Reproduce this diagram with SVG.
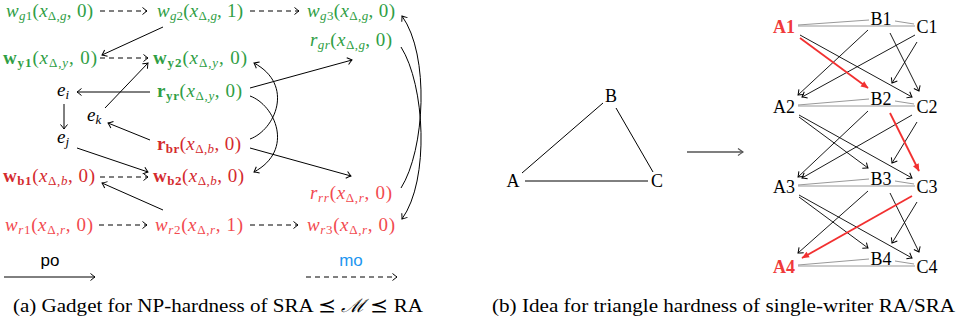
<svg xmlns="http://www.w3.org/2000/svg" width="969" height="325" viewBox="0 0 969 325">
<style>
text{font-family:"Liberation Serif","DejaVu Serif",serif;font-size:19px;fill:#000}
.i{font-style:italic}
.bd{font-weight:bold}
.s{font-size:13px}
.g{fill:#2f9e44}
.b{fill:#d42a2e}
.r{fill:#f24a4f}
.A{fill:#f03a3a;font-weight:bold}
.lb{font-size:18px}
.cap{font-size:18.5px}
.ln{stroke:#000;stroke-width:1;fill:none;marker-end:url(#ah)}
.pl{stroke:#000;stroke-width:1;fill:none}
.da{stroke-dasharray:5 4}
.gr{stroke:#999;stroke-width:1;fill:none}
.ga{stroke:#000;stroke-width:0.9;fill:none;marker-end:url(#ah)}
.rd{stroke:#f23030;stroke-width:1.8;fill:none;marker-end:url(#ahr)}
.sans{font-family:"Liberation Sans",Arial,sans-serif;font-size:17px}
.mid{text-anchor:middle}
</style>
<defs>
<marker id="ah" markerUnits="userSpaceOnUse" viewBox="-6 -5 7 10" refX="0" refY="0" markerWidth="7" markerHeight="10" orient="auto"><path d="M-4.5,-3.5 Q-1.5,-1 0,0 Q-1.5,1 -4.5,3.5" fill="none" stroke="#000" stroke-width="1"/></marker>
<marker id="ahr" markerUnits="userSpaceOnUse" viewBox="-8 -5 9 10" refX="0" refY="0" markerWidth="9" markerHeight="10" orient="auto"><path d="M-7,-3.2 L0.5,0 L-7,3.2 Z" fill="#f23030"/></marker>
<marker id="ahg" markerUnits="userSpaceOnUse" viewBox="-6 -5 7 10" refX="0" refY="0" markerWidth="7" markerHeight="10" orient="auto"><path d="M-5,-3.5 Q-1.5,-1 0,0 Q-1.5,1 -5,3.5" fill="none" stroke="#555" stroke-width="1.2"/></marker>
</defs>

<g id="connectors">
  <path class="ln da" d="M100,11 L147,11"/>
  <path class="ln da" d="M250,11 L299,11"/>
  <path class="ln" d="M163,27 L102,55"/>
  <path class="ln da" d="M100,58 L148,58"/>
  <path class="ln" d="M105,108 L148,63"/>
  <path class="ln" d="M150,92 L77,92"/>
  <path class="ln" d="M250,88 L352,60"/>
  <path class="ln" d="M64,104 L64,129"/>
  <path class="ln" d="M150,140 L108,123"/>
  <path class="ln" d="M77,148 L148,172"/>
  <path class="ln" d="M250,148 L351,176"/>
  <path class="ln da" d="M100,177 L148,177"/>
  <path class="ln" d="M163,210 L102,183"/>
  <path class="ln da" d="M99,225 L147,225"/>
  <path class="ln da" d="M250,225 L298,225"/>
  <path class="ln" d="M250,96 C275,105 295,150 254,172"/>
  <path class="ln" d="M250,139 C275,130 295,85 254,63"/>
  <path class="ln" d="M401,47 C425,85 430,180 402,219"/>
  <path class="ln" d="M401,188 C425,150 430,55 402,16"/>
  <path class="ln" d="M4,277 L95,277"/>
  <path class="ln da" d="M306,277 L397,277"/>

  <path class="pl" d="M522,173 L603,103"/>
  <path class="pl" d="M616,108 L653,172"/>
  <path class="pl" d="M525,181 L648,181"/>
  <path d="M687,152 L743,152" stroke="#555" stroke-width="1.3" fill="none" marker-end="url(#ahg)"/>

  <path class="gr" d="M798,25 L869,20 M798,26 L915,26 M895,21 L914,24"/>
  <path class="gr" d="M798,105 L869,99 M798,106 L915,106 M895,101 L914,104"/>
  <path class="gr" d="M798,185 L869,179 M798,186 L915,186 M895,181 L914,184"/>
  <path class="gr" d="M798,265 L869,259 M798,266 L915,266 M895,261 L914,264"/>

  <path class="ga" d="M868,30 L798,95"/>
  <path class="ga" d="M915,35 L802,97"/>
  <path class="ga" d="M800,35 L912,97"/>
  <path class="ga" d="M890,33 L919,91"/>
  <path class="ga" d="M917,42 L892,83"/>
  <path class="rd" d="M800,38 L868,88"/>

  <path class="ga" d="M799,117 L868,168"/>
  <path class="ga" d="M799,115 L912,178"/>
  <path class="ga" d="M868,111 L798,177"/>
  <path class="ga" d="M912,115 L802,178"/>
  <path class="ga" d="M917,122 L892,163"/>
  <path class="rd" d="M890,113 L919,171"/>

  <path class="ga" d="M799,197 L868,248"/>
  <path class="ga" d="M799,195 L912,258"/>
  <path class="ga" d="M868,191 L798,253"/>
  <path class="ga" d="M917,202 L892,243"/>
  <path class="ga" d="M890,193 L919,252"/>
  <path class="rd" d="M912,196 L802,258"/>
</g>

<g id="wg1"><text x="6" y="17" class="g" textLength="87" lengthAdjust="spacing"><tspan class="i">w</tspan><tspan class="s i" dy="3">g</tspan><tspan class="s">1</tspan><tspan dy="-3">(</tspan><tspan class="i">x</tspan><tspan class="s" dy="3">Δ,</tspan><tspan class="s i">g</tspan><tspan dy="-3">, 0)</tspan></text></g>
<g id="wg2"><text x="157" y="17" class="g" textLength="86" lengthAdjust="spacing"><tspan class="i">w</tspan><tspan class="s i" dy="3">g</tspan><tspan class="s">2</tspan><tspan dy="-3">(</tspan><tspan class="i">x</tspan><tspan class="s" dy="3">Δ,</tspan><tspan class="s i">g</tspan><tspan dy="-3">, 1)</tspan></text></g>
<g id="wg3"><text x="307" y="17" class="g" textLength="88" lengthAdjust="spacing"><tspan class="i">w</tspan><tspan class="s i" dy="3">g</tspan><tspan class="s">3</tspan><tspan dy="-3">(</tspan><tspan class="i">x</tspan><tspan class="s" dy="3">Δ,</tspan><tspan class="s i">g</tspan><tspan dy="-3">, 0)</tspan></text></g>
<g id="rgr"><text x="310" y="46" class="g" textLength="82" lengthAdjust="spacing"><tspan class="i">r</tspan><tspan class="s i" dy="3">gr</tspan><tspan dy="-3">(</tspan><tspan class="i">x</tspan><tspan class="s" dy="3">Δ,</tspan><tspan class="s i">g</tspan><tspan dy="-3">, 0)</tspan></text></g>
<g id="wy1"><text x="3" y="64" class="g" textLength="94" lengthAdjust="spacing"><tspan class="bd">w</tspan><tspan class="s bd" dy="3">y1</tspan><tspan dy="-3">(</tspan><tspan class="i">x</tspan><tspan class="s" dy="3">Δ,</tspan><tspan class="s i">y</tspan><tspan dy="-3">, 0)</tspan></text></g>
<g id="wy2"><text x="153" y="64" class="g" textLength="94" lengthAdjust="spacing"><tspan class="bd">w</tspan><tspan class="s bd" dy="3">y2</tspan><tspan dy="-3">(</tspan><tspan class="i">x</tspan><tspan class="s" dy="3">Δ,</tspan><tspan class="s i">y</tspan><tspan dy="-3">, 0)</tspan></text></g>
<g id="ryr"><text x="157" y="97" class="g" textLength="85" lengthAdjust="spacing"><tspan class="bd">r</tspan><tspan class="s bd" dy="3">yr</tspan><tspan dy="-3">(</tspan><tspan class="i">x</tspan><tspan class="s" dy="3">Δ,</tspan><tspan class="s i">y</tspan><tspan dy="-3">, 0)</tspan></text></g>
<g id="ei"><text x="57" y="96" class="i">e<tspan class="s" dy="3">i</tspan></text></g>
<g id="ek"><text x="87" y="121" class="i">e<tspan class="s" dy="3">k</tspan></text></g>
<g id="ej"><text x="57" y="143" class="i">e<tspan class="s" dy="3">j</tspan></text></g>
<g id="rbr"><text x="157" y="150" class="b" textLength="84" lengthAdjust="spacing"><tspan class="bd">r</tspan><tspan class="s bd" dy="3">br</tspan><tspan dy="-3">(</tspan><tspan class="i">x</tspan><tspan class="s" dy="3">Δ,</tspan><tspan class="s i">b</tspan><tspan dy="-3">, 0)</tspan></text></g>
<g id="wb1"><text x="3" y="182" class="b" textLength="92" lengthAdjust="spacing"><tspan class="bd">w</tspan><tspan class="s bd" dy="3">b1</tspan><tspan dy="-3">(</tspan><tspan class="i">x</tspan><tspan class="s" dy="3">Δ,</tspan><tspan class="s i">b</tspan><tspan dy="-3">, 0)</tspan></text></g>
<g id="wb2"><text x="153" y="182" class="b" textLength="91" lengthAdjust="spacing"><tspan class="bd">w</tspan><tspan class="s bd" dy="3">b2</tspan><tspan dy="-3">(</tspan><tspan class="i">x</tspan><tspan class="s" dy="3">Δ,</tspan><tspan class="s i">b</tspan><tspan dy="-3">, 0)</tspan></text></g>
<g id="rrr"><text x="310" y="199" class="r" textLength="82" lengthAdjust="spacing"><tspan class="i">r</tspan><tspan class="s i" dy="3">rr</tspan><tspan dy="-3">(</tspan><tspan class="i">x</tspan><tspan class="s" dy="3">Δ,</tspan><tspan class="s i">r</tspan><tspan dy="-3">, 0)</tspan></text></g>
<g id="wr1"><text x="5" y="231" class="r" textLength="88" lengthAdjust="spacing"><tspan class="i">w</tspan><tspan class="s i" dy="3">r</tspan><tspan class="s">1</tspan><tspan dy="-3">(</tspan><tspan class="i">x</tspan><tspan class="s" dy="3">Δ,</tspan><tspan class="s i">r</tspan><tspan dy="-3">, 0)</tspan></text></g>
<g id="wr2"><text x="155" y="231" class="r" textLength="88" lengthAdjust="spacing"><tspan class="i">w</tspan><tspan class="s i" dy="3">r</tspan><tspan class="s">2</tspan><tspan dy="-3">(</tspan><tspan class="i">x</tspan><tspan class="s" dy="3">Δ,</tspan><tspan class="s i">r</tspan><tspan dy="-3">, 1)</tspan></text></g>
<g id="wr3"><text x="307" y="231" class="r" textLength="88" lengthAdjust="spacing"><tspan class="i">w</tspan><tspan class="s i" dy="3">r</tspan><tspan class="s">3</tspan><tspan dy="-3">(</tspan><tspan class="i">x</tspan><tspan class="s" dy="3">Δ,</tspan><tspan class="s i">r</tspan><tspan dy="-3">, 0)</tspan></text></g>
<g id="po"><text x="50" y="266" class="sans mid">po</text></g>
<g id="mo"><text x="351" y="266" class="sans mid" style="fill:#1e96f0">mo</text></g>
<g id="captionA"><text x="13" y="312" class="cap" textLength="410" lengthAdjust="spacingAndGlyphs">(a) Gadget for NP-hardness of SRA ⪯ <tspan class="i">ℳ</tspan> ⪯ RA</text></g>

<g id="tA"><text x="513" y="187" class="mid lb">A</text></g>
<g id="tB"><text x="611" y="102" class="mid lb">B</text></g>
<g id="tC"><text x="657" y="187" class="mid lb">C</text></g>

<g id="A1"><text x="784" y="33" class="mid lb A">A1</text></g>
<g id="B1"><text x="881" y="25" class="mid lb">B1</text></g>
<g id="C1"><text x="927" y="33" class="mid lb">C1</text></g>
<g id="A2"><text x="784" y="113" class="mid lb">A2</text></g>
<g id="B2"><text x="881" y="105" class="mid lb">B2</text></g>
<g id="C2"><text x="927" y="113" class="mid lb">C2</text></g>
<g id="A3"><text x="784" y="193" class="mid lb">A3</text></g>
<g id="B3"><text x="881" y="185" class="mid lb">B3</text></g>
<g id="C3"><text x="927" y="193" class="mid lb">C3</text></g>
<g id="A4"><text x="784" y="273" class="mid lb A">A4</text></g>
<g id="B4"><text x="881" y="265" class="mid lb">B4</text></g>
<g id="C4"><text x="927" y="273" class="mid lb">C4</text></g>
<g id="captionB"><text x="492" y="312" class="cap" textLength="463" lengthAdjust="spacingAndGlyphs">(b) Idea for triangle hardness of single-writer RA/SRA</text></g>
</svg>
